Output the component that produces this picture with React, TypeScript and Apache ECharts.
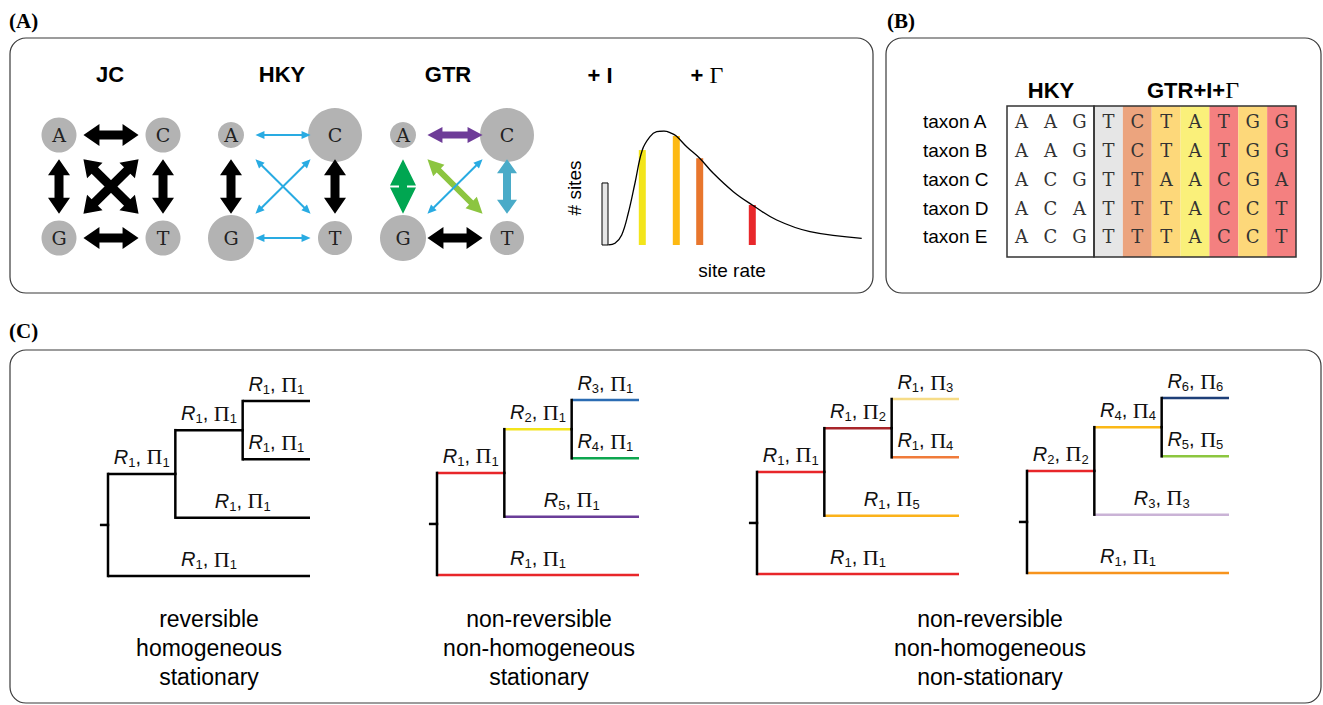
import React, { useEffect, useRef } from "react";
import * as echarts from "echarts";

const SANS = "'Liberation Sans', Arial, Helvetica, sans-serif";
const SERIF = "'Liberation Serif', 'Times New Roman', serif";
const MONO = "'DejaVu Serif', 'Liberation Serif', serif";

// ---------- Panel A: substitution models ----------
const modelTitles = ["JC", "HKY", "GTR"];
const nucleotides = ["A", "C", "G", "T"];
const nodeX = [0, 1, 0, 1];
const nodeY = [0, 0, 1, 1];
const jcNodeSizes = [35, 35, 35, 35];
const hkyNodeSizes = [26, 54, 46, 34];
const gtrNodeSizes = [26, 54, 46, 34];
// [from, to, style]
const jcArrows = [["A", "C", "heavy"], ["G", "T", "heavy"], ["A", "G", "heavy"], ["C", "T", "heavy"], ["A", "T", "heavy"], ["C", "G", "heavy"]];
const hkyArrows = [["A", "C", "thin"], ["G", "T", "thin"], ["A", "G", "heavy"], ["C", "T", "heavy"], ["A", "T", "thin"], ["C", "G", "thin"]];
const gtrArrows = [["A", "C", "purple"], ["G", "T", "heavy"], ["A", "G", "green"], ["C", "T", "steel"], ["A", "T", "lime"], ["C", "G", "thin"]];

// Gamma panel
const rateX = [0.063, 0.13, 0.197, 0.263, 0.33, 0.403, 0.48, 0.547, 0.62, 0.697, 0.743, 0.847, 0.977, 1.113, 1.313, 1.503, 1.747, 2.08, 2.597];
const rateY = [0, 0.015, 0.088, 0.281, 0.544, 0.833, 0.95, 0.994, 1.0, 0.98, 0.956, 0.862, 0.761, 0.629, 0.468, 0.351, 0.219, 0.117, 0.059];
const invariantBar = [0, 0.06, 0.544];
const gammaCatX = [0.403, 0.743, 0.977, 1.503];
const gammaCatH = [0.833, 0.956, 0.761, 0.351];

// ---------- Panel B: alignment ----------
const taxa = ["taxon A", "taxon B", "taxon C", "taxon D", "taxon E"];
const alignment = ["AAGTCTATGG", "AAGTCTATGG", "ACGTTAACGA", "ACATTTACCT", "ACGTTTACCT"];
const hkySiteCount = 3;
// -1: none, 0: invariant, 1..4: gamma categories
const siteClass = [-1, -1, -1, 0, 3, 2, 1, 4, 2, 4];

// ---------- Panel C: trees ----------
// nodes: root, n2, n3, leaf1..leaf4
const treeNodeX = [0, 1, 2, 3, 3, 3, 3];
const treeNodeY = [2.125, 1.25, 0.5, 0, 1, 2, 3];
const treeParent = [-1, 0, 1, 2, 2, 1, 0];
const treeR = [
  [1, 1, 1, 1, 1, 1],
  [1, 2, 3, 4, 5, 1],
  [1, 1, 1, 1, 1, 1],
  [2, 4, 6, 5, 3, 1],
];
const treePi = [
  [1, 1, 1, 1, 1, 1],
  [1, 1, 1, 1, 1, 1],
  [1, 2, 3, 4, 5, 1],
  [2, 4, 6, 5, 3, 1],
];
const treeCaptions = [
  "reversible\nhomogeneous\nstationary",
  "non-reversible\nnon-homogeneous\nstationary",
  "non-reversible\nnon-homogeneous\nnon-stationary",
];

// ---------- styles ----------
const arrowStyles: Record<string, any> = {
  heavy: { shaft: 9, head: 22, len: 16, color: "#000000" },
  thin: { shaft: 2, head: 8, len: 9, color: "#29abe2" },
  purple: { shaft: 7, head: 16, len: 15, color: "#6e3c98" },
  green: { shaft: 8, head: 26, len: 27, color: "#00a651" },
  lime: { shaft: 6, head: 16, len: 16, color: "#8cc540" },
  steel: { shaft: 8, head: 20, len: 14, color: "#4aabc8" },
};
const gammaColors = ["#f3e51b", "#fdb913", "#e8762d", "#e8282b"];
const classFill = ["#e6e6e6", "#faf07a", "#fdd87a", "#eca47e", "#f48080"];
const treeColors = [
  ["#000", "#000", "#000", "#000", "#000", "#000"],
  ["#e8262a", "#f3e41c", "#2b6cb3", "#0da64f", "#6a3d98", "#e8262a"],
  ["#e8262a", "#a8252a", "#f6dc87", "#f07b3a", "#fbb21a", "#e8262a"],
  ["#e8262a", "#fbb817", "#1e3f78", "#8cc63f", "#cab3d6", "#f7941d"],
];

function arrowPoints(a: number[], b: number[], st: any) {
  const dx = b[0] - a[0];
  const dy = b[1] - a[1];
  const L = Math.hypot(dx, dy);
  const ux = dx / L, uy = dy / L, nx = -uy, ny = ux;
  const hl = Math.min(st.len, L / 2 - 1);
  const hw = st.head / 2, sw = st.shaft / 2;
  const b1 = [a[0] + ux * hl, a[1] + uy * hl];
  const b2 = [b[0] - ux * hl, b[1] - uy * hl];
  const p = (base: number[], w: number) => [base[0] + nx * w, base[1] + ny * w];
  return [a, p(b1, hw), p(b1, sw), p(b2, sw), p(b2, hw), b, p(b2, -hw), p(b2, -sw), p(b1, -sw), p(b1, -hw)];
}

function buildOption() {
  const grid: any[] = [];
  const xAxis: any[] = [];
  const yAxis: any[] = [];
  const series: any[] = [];
  const inset = 0.235;

  const modelSizes = [jcNodeSizes, hkyNodeSizes, gtrNodeSizes];
  const modelArrows = [jcArrows, hkyArrows, gtrArrows];
  for (let m = 0; m < 3; m++) {
    grid.push({ left: 59 + m * 172, top: 135, width: 104, height: 103 });
    xAxis.push({ gridIndex: m, type: "value", min: 0, max: 1, show: false });
    yAxis.push({ gridIndex: m, type: "value", min: 0, max: 1, inverse: true, show: false });
    const sizes = modelSizes[m];
    series.push({
      type: "scatter", xAxisIndex: m, yAxisIndex: m, silent: true, z: 2,
      data: nucleotides.map((n, k) => ({ name: n, value: [nodeX[k], nodeY[k]], symbolSize: sizes[k] })),
      itemStyle: { color: "#b3b3b3", opacity: 1 },
      label: { show: true, position: "inside", formatter: "{b}", fontFamily: MONO, fontSize: 19, color: "#222" },
    });
    const arrows = modelArrows[m];
    const arrowData = arrows.map(([f, t]) => {
      const i = nucleotides.indexOf(f), j = nucleotides.indexOf(t);
      const x1 = nodeX[i] + (nodeX[j] - nodeX[i]) * inset;
      const y1 = nodeY[i] + (nodeY[j] - nodeY[i]) * inset;
      const x2 = nodeX[j] + (nodeX[i] - nodeX[j]) * inset;
      const y2 = nodeY[j] + (nodeY[i] - nodeY[j]) * inset;
      return [x1, y1, x2, y2];
    });
    series.push({
      type: "custom", xAxisIndex: m, yAxisIndex: m, silent: true, z: 3, clip: false,
      encode: { x: [0, 2], y: [1, 3] },
      data: arrowData,
      renderItem: (params: any, api: any) => {
        const a = api.coord([api.value(0), api.value(1)]);
        const b = api.coord([api.value(2), api.value(3)]);
        const st = arrowStyles[arrows[params.dataIndex][2]];
        return { type: "polygon", shape: { points: arrowPoints(a, b, st) }, style: { fill: st.color } };
      },
    });
  }

  // gamma panel grid 3
  const nameStyle = { fontFamily: SANS, fontSize: 19, color: "#000" };
  grid.push({ left: 602, top: 131, width: 260, height: 114 });
  xAxis.push({
    gridIndex: 3, type: "value", min: 0, max: 2.6, axisLine: { show: false }, axisTick: { show: false },
    axisLabel: { show: false }, splitLine: { show: false }, name: "site rate", nameLocation: "middle", nameGap: 16, nameTextStyle: nameStyle,
  });
  yAxis.push({
    gridIndex: 3, type: "value", min: 0, max: 1, axisLine: { show: false }, axisTick: { show: false },
    axisLabel: { show: false }, splitLine: { show: false }, name: "# sites", nameLocation: "middle", nameRotate: 90, nameGap: 18, nameTextStyle: nameStyle,
  });
  series.push({
    type: "custom", xAxisIndex: 3, yAxisIndex: 3, silent: true, z: 2, clip: false,
    data: [invariantBar],
    encode: { x: [0, 1], y: 2 },
    renderItem: (params: any, api: any) => {
      const tl = api.coord([api.value(0), api.value(2)]);
      const br = api.coord([api.value(1), 0]);
      return { type: "rect", shape: { x: tl[0], y: tl[1], width: br[0] - tl[0], height: br[1] - tl[1] }, style: { fill: "#e6e6e6", stroke: "#000", lineWidth: 1 } };
    },
  });
  series.push({
    type: "custom", xAxisIndex: 3, yAxisIndex: 3, silent: true, z: 2, clip: false,
    data: gammaCatX.map((x, i) => [x, gammaCatH[i]]),
    renderItem: (params: any, api: any) => {
      const top = api.coord([api.value(0), api.value(1)]);
      const bot = api.coord([api.value(0), 0]);
      return { type: "rect", shape: { x: top[0] - 3.5, y: top[1], width: 7, height: bot[1] - top[1] }, style: { fill: gammaColors[params.dataIndex] } };
    },
  });
  series.push({
    type: "line", xAxisIndex: 3, yAxisIndex: 3, silent: true, z: 4, smooth: 0.4, symbol: "none",
    data: rateX.map((x, i) => [x, rateY[i]]),
    lineStyle: { color: "#000", width: 1.3 },
  });

  // table grids 4 (HKY) and 5 (GTR)
  const hkyCols = Array.from({ length: hkySiteCount }, (_, i) => String(i + 1));
  const gtrCols = Array.from({ length: alignment[0].length - hkySiteCount }, (_, i) => String(i + 1 + hkySiteCount));
  grid.push({ left: 1007, top: 106, width: 87, height: 151 });
  grid.push({ left: 1094, top: 106, width: 202, height: 151 });
  [hkyCols, gtrCols].forEach((cols, k) => {
    const gi = 4 + k;
    const offset = k === 0 ? 0 : hkySiteCount;
    xAxis.push({ gridIndex: gi, type: "category", data: cols, show: false });
    yAxis.push({ gridIndex: gi, type: "value", min: -0.55, max: 4.7, inverse: true, show: false });
    series.push({
      type: "custom", xAxisIndex: gi, yAxisIndex: gi, silent: true, z: 1,
      data: cols.map((_, c) => [c, 0]),
      renderItem: (params: any, api: any) => {
        const cls = siteClass[offset + params.dataIndex];
        const c = api.coord([api.value(0), 0]);
        const w = api.size([1, 0])[0];
        const cs = params.coordSys;
        return { type: "rect", shape: { x: c[0] - w / 2, y: cs.y, width: w, height: cs.height }, style: { fill: cls < 0 ? "#ffffff" : classFill[cls] } };
      },
    });
    const cells: number[][] = [];
    taxa.forEach((_, r) => cols.forEach((__, c) => cells.push([c, r])));
    series.push({
      type: "custom", xAxisIndex: gi, yAxisIndex: gi, silent: true, z: 3,
      data: cells,
      renderItem: (params: any, api: any) => {
        const c = api.value(0), r = api.value(1);
        const p = api.coord([c, r]);
        return { type: "text", x: p[0], y: p[1], style: { text: alignment[r][offset + c], fill: "#333", fontFamily: MONO, fontSize: 18, align: "center", verticalAlign: "middle" } };
      },
    });
    series.push({
      type: "custom", xAxisIndex: gi, yAxisIndex: gi, silent: true, z: 5,
      data: [[0, 0]],
      renderItem: (params: any) => {
        const cs = params.coordSys;
        return { type: "rect", shape: { x: cs.x, y: cs.y, width: cs.width, height: cs.height }, style: { fill: "none", stroke: "#333", lineWidth: 1.5 } };
      },
    });
  });
  series.push({
    type: "custom", xAxisIndex: 4, yAxisIndex: 4, silent: true, z: 3, clip: false,
    data: taxa.map((_, r) => [0, r]),
    renderItem: (params: any, api: any) => {
      const p = api.coord([0, api.value(1)]);
      return { type: "text", x: params.coordSys.x - 84, y: p[1], style: { text: taxa[params.dataIndex], fill: "#000", fontFamily: SANS, fontSize: 19, align: "left", verticalAlign: "middle" } };
    },
  });

  // trees grids 6..9
  const treeLefts = [108, 437, 757, 1027];
  const treeTops = [401, 400, 399, 398];
  const segs: any[] = [];
  for (let i = 1; i < 7; i++) {
    const p = treeParent[i];
    segs.push({ kind: "h", node: i, x1: treeNodeX[p], y1: treeNodeY[i], x2: treeNodeX[i], y2: treeNodeY[i] });
  }
  for (let i = 1; i < 7; i++) {
    const p = treeParent[i];
    segs.push({ kind: "v", x1: treeNodeX[p], y1: treeNodeY[p], x2: treeNodeX[p], y2: treeNodeY[i] });
  }
  segs.push({ kind: "stub", x1: -0.12, y1: treeNodeY[0], x2: 0, y2: treeNodeY[0] });
  const rich = {
    r: { fontFamily: SANS, fontStyle: "italic", fontSize: 20, fill: "#111", lineHeight: 24, verticalAlign: "middle" },
    t: { fontFamily: SANS, fontSize: 20, fill: "#111", lineHeight: 24, verticalAlign: "middle" },
    p: { fontFamily: SERIF, fontSize: 22, fill: "#111", lineHeight: 24, verticalAlign: "middle" },
    s: { fontFamily: SANS, fontSize: 13, fill: "#111", lineHeight: 14, verticalAlign: "bottom" },
  };
  for (let t = 0; t < 4; t++) {
    const gi = 6 + t;
    grid.push({ left: treeLefts[t], top: treeTops[t], width: 202, height: 175 });
    xAxis.push({ gridIndex: gi, type: "value", min: 0, max: 3, show: false });
    yAxis.push({ gridIndex: gi, type: "value", min: 0, max: 3, inverse: true, show: false });
    series.push({
      type: "custom", xAxisIndex: gi, yAxisIndex: gi, silent: true, z: 3, clip: false,
      encode: { x: [0, 2], y: [1, 3] },
      data: segs.map((s) => [s.x1, s.y1, s.x2, s.y2]),
      renderItem: (params: any, api: any) => {
        const s = segs[params.dataIndex];
        const a = api.coord([s.x1, s.y1]);
        const b = api.coord([s.x2, s.y2]);
        const color = s.kind === "h" ? treeColors[t][s.node - 1] : "#000";
        const children: any[] = [
          { type: "line", shape: { x1: a[0], y1: a[1], x2: b[0], y2: b[1] }, style: { stroke: color, lineWidth: 2.5, lineCap: s.kind === "v" ? "square" : "butt" }, z2: s.kind === "h" ? 1 : 2 },
        ];
        if (s.kind === "h") {
          const R = treeR[t][s.node - 1], P = treePi[t][s.node - 1];
          children.push({
            type: "text", x: (a[0] + b[0]) / 2, y: a[1] - 5,
            style: { text: `{r|R}{s|${R}}{t|, }{p|Π}{s|${P}}`, rich, align: "center", verticalAlign: "bottom" },
          });
        }
        return { type: "group", children };
      },
    });
  }

  const panelBox = (x: number, y: number, w: number, h: number) => ({
    type: "rect", shape: { x, y, width: w, height: h, r: 16 }, style: { fill: "none", stroke: "#3a3a3a", lineWidth: 1.2 }, silent: true,
  });
  const txt = (text: string, x: number, y: number, font: any, align = "center") => ({
    type: "text", x, y, silent: true,
    style: { text, fill: "#000", align, verticalAlign: "middle", ...font },
  });
  const titleFont = { fontFamily: SANS, fontWeight: "bold", fontSize: 22 };
  const panelFont = { fontFamily: SERIF, fontWeight: "bold", fontSize: 21 };
  const gammaRich = {
    b: { fontFamily: SANS, fontWeight: "bold", fontSize: 22, fill: "#000" },
    g: { fontFamily: SERIF, fontSize: 24, fill: "#000" },
  };
  const modelTitleX = [110, 282, 448];

  const graphic: any[] = [
    panelBox(10, 38, 863, 255),
    panelBox(886, 38, 435, 255),
    panelBox(10, 350, 1311, 353),
    txt("(A)", 9, 21, panelFont, "left"),
    txt("(B)", 887, 21, panelFont, "left"),
    txt("(C)", 9, 331, panelFont, "left"),
    ...modelTitles.map((m, i) => txt(m, modelTitleX[i], 74, titleFont)),
    txt("+ I", 600, 75, titleFont),
    { type: "text", x: 707, y: 75, silent: true, style: { text: "{b|+ }{g|Γ}", rich: gammaRich, align: "center", verticalAlign: "middle" } },
    txt("HKY", 1051, 90, titleFont),
    { type: "text", x: 1193, y: 90, silent: true, style: { text: "{b|GTR+I+}{g|Γ}", rich: gammaRich, align: "center", verticalAlign: "middle" } },
    ...[209, 539, 990].map((x, i) => ({
      type: "text", x, y: 648, silent: true,
      style: { text: treeCaptions[i], fill: "#000", fontFamily: SANS, fontSize: 23, lineHeight: 29, align: "center", verticalAlign: "middle" },
    })),
  ];

  return { animation: false, backgroundColor: "#ffffff", grid, xAxis, yAxis, series, graphic };
}

export default function App() {
  const ref = useRef<HTMLDivElement>(null);
  useEffect(() => {
    document.body.style.margin = "0";
    const chart = echarts.init(ref.current!, null, { renderer: "svg" });
    chart.setOption(buildOption() as any);
    return () => chart.dispose();
  }, []);
  return <div ref={ref} style={{ width: 1323, height: 705, position: "absolute", left: 0, top: 0, background: "#fff" }} />;
}
